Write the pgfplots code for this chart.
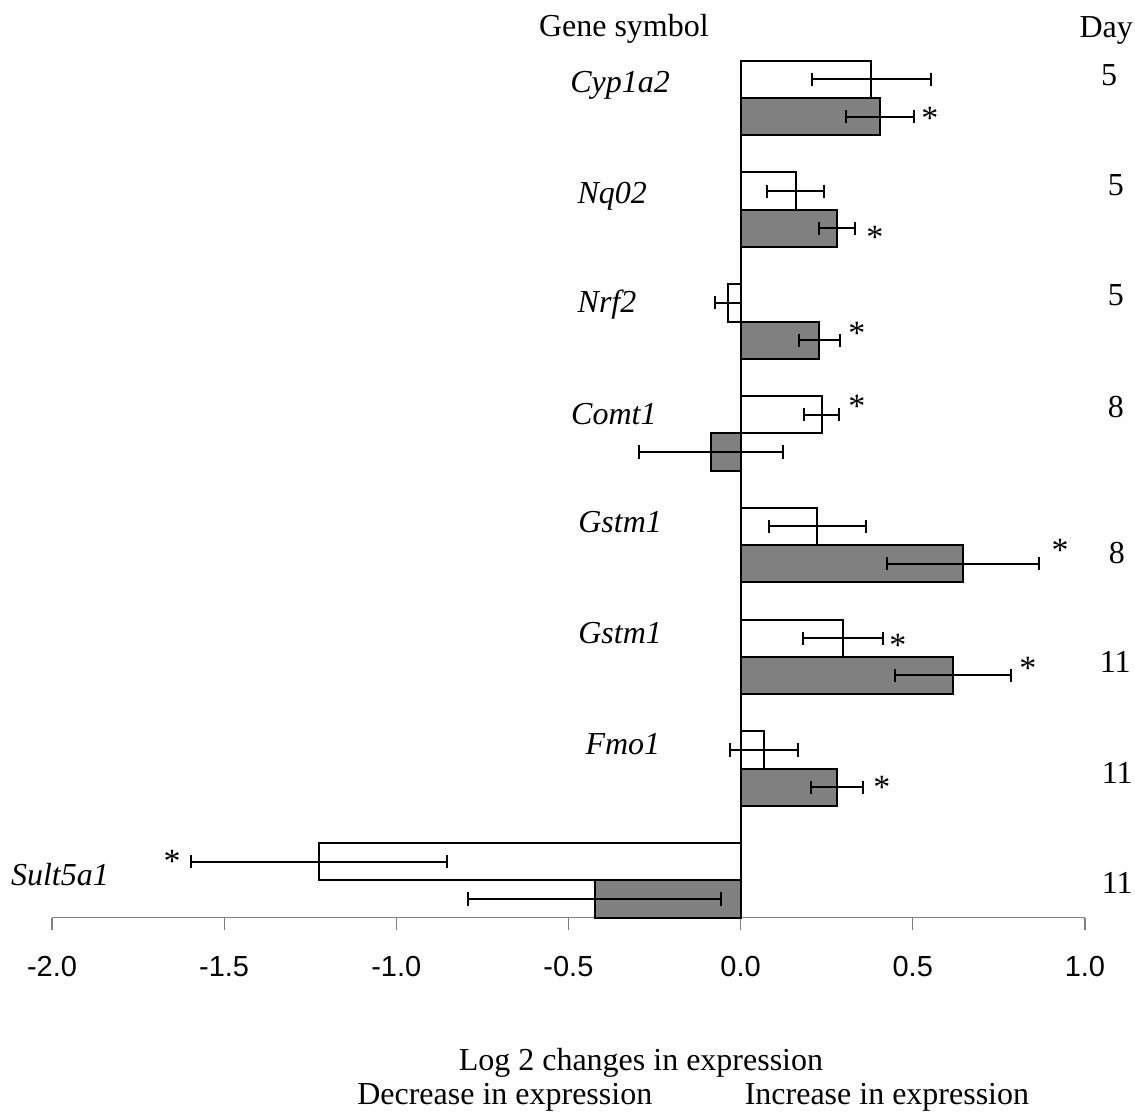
\documentclass[border=0pt]{standalone}
\usepackage{fontspec}
\setmainfont{Liberation Serif}
\setsansfont{Liberation Sans}
\usepackage{pgfplots}
\pgfplotsset{compat=1.18}
\definecolor{bargray}{RGB}{128,128,128}
\begin{document}
\begin{tikzpicture}
\begin{axis}[
  scale only axis, width=516.5pt, height=428.5pt,
  xmin=-2, xmax=1, ymin=0, ymax=23,
  axis x line*=bottom, axis y line=none,
  axis line style={-, draw=gray, line width=0.6pt},
  xtick={-2,-1.5,-1,-0.5,0,0.5,1},
  tick align=outside, major tick length=6pt,
  tick style={gray, line width=0.6pt},
  xticklabel style={font=\sffamily\fontsize{14.5}{17}\selectfont, yshift=-10pt},
  xticklabel={\pgfmathprintnumber[fixed, fixed zerofill, precision=1, assume math mode=true]{\tick}},
  ytick=\empty,
  clip=false,
  enlargelimits=false,
]
% white bars (upper of each pair)
\addplot[xbar, bar width=1, bar shift=0, fill=white, draw=black, line width=1pt,
  error bars/.cd, x dir=both, x explicit,
  error mark=|,
  error bar style={line width=1pt, black},
  error mark options={black, mark size=3.3pt, line width=1pt}]
 table[x=x, y=y, x error=e] {
 x      y     e
 0.380  22.5  0.172
 0.160  19.5  0.083
 -0.036 16.5  0.038
 0.235  13.5  0.050
 0.223  10.5  0.140
 0.298  7.5   0.117
 0.068  4.5   0.100
 -1.225 1.5   0.372
 };
% gray bars (lower of each pair)
\addplot[xbar, bar width=1, bar shift=0, fill=bargray, draw=black, line width=1pt,
  error bars/.cd, x dir=both, x explicit,
  error mark=|,
  error bar style={line width=1pt, black},
  error mark options={black, mark size=3.3pt, line width=1pt}]
 table[x=x, y=y, x error=e] {
 x      y     e
 0.405  21.5  0.100
 0.280  18.5  0.052
 0.229  15.5  0.060
 -0.086 12.5  0.210
 0.646  9.5   0.222
 0.616  6.5   0.168
 0.280  3.5   0.076
 -0.424 0.5   0.368
 };
% zero line
\addplot[black, line width=1pt, mark=none] coordinates {(0,0) (0,23)};
% significance stars
\addplot[only marks, mark=text, text mark={*}, text mark as node=true,
  text mark style={font=\fontsize{17}{19}\selectfont, anchor=center, inner sep=0pt}]
 coordinates {
 (0.550,21.46) (0.390,18.27) (0.338,15.67) (0.338,13.71)
 (0.928,9.87) (0.457,7.32) (0.834,6.68) (0.410,3.49) (-1.651,1.50)
 };
% gene names
\begin{scope}[every node/.style={anchor=base, inner sep=0pt, font=\itshape\fontsize{16}{19}\selectfont}]
\node at (axis cs:-0.350,22.14) {Cyp1a2};
\node at (axis cs:-0.373,19.18) {Nq02};
\node at (axis cs:-0.388,16.23) {Nrf2};
\node at (axis cs:-0.368,13.23) {Comt1};
\node at (axis cs:-0.350,10.33) {Gstm1};
\node at (axis cs:-0.350,7.35) {Gstm1};
\node at (axis cs:-0.342,4.37) {Fmo1};
\node at (axis cs:-1.977,0.86) {Sult5a1};
\end{scope}
% day numbers
\begin{scope}[every node/.style={anchor=center, inner sep=0pt, font=\fontsize{16}{19}\selectfont}]
\node at (axis cs:1.070,22.62) {5};
\node at (axis cs:1.090,19.67) {5};
\node at (axis cs:1.090,16.72) {5};
\node at (axis cs:1.090,13.71) {8};
\node at (axis cs:1.093,9.79) {8};
\node at (axis cs:1.088,6.87) {11};
\node at (axis cs:1.094,3.89) {11};
\node at (axis cs:1.094,0.94) {11};
\end{scope}
% headers and bottom labels
\begin{scope}[every node/.style={anchor=base, inner sep=0pt, font=\fontsize{16}{19}\selectfont}]
\node at (axis cs:-0.339,23.64) {Gene symbol};
\node at (axis cs:1.062,23.61) {Day};
\node at (axis cs:-0.2895,-4.105) {Log 2 changes in expression};
\node at (axis cs:-0.685,-5.017) {Decrease in expression};
\node at (axis cs:0.425,-5.017) {Increase in expression};
\end{scope}
% frame
\path (axis cs:-2.151,-5.259) rectangle (axis cs:1.1455,24.63);
\end{axis}
\end{tikzpicture}
\end{document}
